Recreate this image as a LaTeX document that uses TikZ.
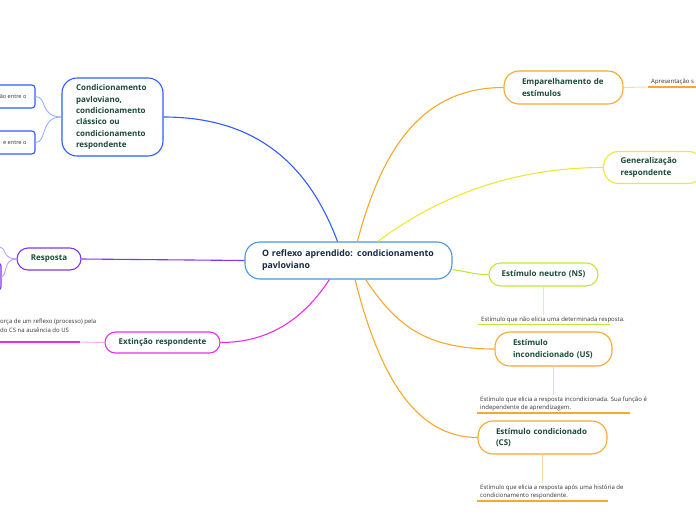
\documentclass[tikz,border=0pt]{standalone}
\usepackage{fontspec}
\setmainfont{Open Sans}
\usetikzlibrary{positioning}
\definecolor{mapBlue}{HTML}{2F5CFF}
\definecolor{mapLightBlue}{HTML}{93B2FF}
\definecolor{mapSky}{HTML}{4A96D8}
\definecolor{mapOrange}{HTML}{F6A92A}
\definecolor{mapPaleOrange}{HTML}{FAD9A6}
\definecolor{mapYellow}{HTML}{F0E82E}
\definecolor{mapLime}{HTML}{BDEB33}
\definecolor{mapPaleLime}{HTML}{DDF593}
\definecolor{mapPurple}{HTML}{7F35F5}
\definecolor{mapLavender}{HTML}{BBA0FF}
\definecolor{mapMagenta}{HTML}{EC2CEC}
\definecolor{mapPink}{HTML}{F6A8F6}
\definecolor{mapText}{HTML}{1B4A3A}
\definecolor{mapNavy}{HTML}{162B45}
\definecolor{mapGrey}{HTML}{333333}

\begin{document}
\begin{tikzpicture}[x=1pt, y=-1pt,
    topic/.style={draw, fill=white, line width=1.1pt, text=mapText, align=left,
      font=\bfseries\fontsize{8}{11.3}\selectfont, inner xsep=0pt, inner ysep=0pt},
    leaf/.style={font=\fontsize{6}{8.6}\selectfont, text=mapGrey, align=left,
      inner xsep=3pt, inner ysep=1.5pt, anchor=south west},
    branch/.style={line width=1.1pt},
    twig/.style={line width=0.9pt},
    rule/.style={line width=1.8pt}]
    \useasboundingbox (0,0) rectangle (696,520);

    % noeud central
    \node[topic, draw=mapSky, text=mapNavy, font=\bfseries\fontsize{8.8}{12}\selectfont,
      rounded corners=15pt, minimum width=207pt, minimum height=37pt, text width=173pt]
      (root) at (348.5,260.5) {O reflexo aprendido: condicionamento\\pavloviano};

    % branches
    \node[topic, draw=mapBlue, rounded corners=15pt, minimum width=101pt, minimum height=78pt,
      text width=73pt] (cond) at (112.5,117)
      {Condicionamento\\pavloviano,\\condicionamento\\clássico ou\\condicionamento\\respondente};
    \node[topic, draw=mapOrange, rounded corners=15pt, minimum width=119pt, minimum height=33pt,
      text width=83pt] (emp) at (563.5,87.5) {Emparelhamento de\\estímulos};
    \node[topic, draw=mapYellow, rounded corners=15pt, anchor=west, minimum width=100pt,
      minimum height=32pt, text width=66pt] (gen) at (603,167.5) {Generalização\\respondente};
    \node[topic, draw=mapLime, rounded corners=11.5pt, align=center, minimum width=109pt,
      minimum height=23pt, text width=90pt] (ns) at (543.5,274.5) {Estímulo neutro (NS)};
    \node[topic, draw=mapOrange, rounded corners=15pt, minimum width=117pt, minimum height=34pt,
      text width=81pt] (us) at (553.5,349) {Estímulo\\incondicionado (US)};
    \node[topic, draw=mapOrange, rounded corners=15pt, minimum width=129pt, minimum height=33pt,
      text width=93pt] (cs) at (542.5,437.5) {Estímulo condicionado\\(CS)};
    \node[topic, draw=mapPurple, rounded corners=11pt, align=center, minimum width=64pt,
      minimum height=22pt, text width=54pt] (resp) at (49,259) {Resposta};
    \node[topic, draw=mapMagenta, rounded corners=10.5pt, align=center, minimum width=115pt,
      minimum height=21pt, text width=100pt] (ext) at (162.5,342.5) {Extinção respondente};

    % sous-branches coupées au bord gauche
    \node[topic, draw=mapBlue, rounded corners=3pt, font=\fontsize{5.6}{8}\selectfont,
      text=mapGrey, inner xsep=8.5pt, minimum height=23pt, anchor=east] (lb1) at (35.5,96.5)
      {ão entre o};
    \node[topic, draw=mapBlue, rounded corners=3pt, font=\fontsize{5.6}{8}\selectfont,
      text=mapGrey, inner xsep=8.5pt, minimum height=23pt, anchor=east] (lb2) at (35.5,142.5)
      {e entre o};
    \node[topic, draw=mapPurple, rounded corners=3pt, minimum width=40pt, minimum height=27pt,
      anchor=east] (rb2) at (1.5,276.5) {};
    \coordinate (rb1) at (0,247);

    % textes des feuilles
    \node[leaf] (apd) at (648,87) {Apresentação s};
    \node[leaf] (nsd) at (478,324.5) {Estímulo que não elicia uma determinada resposta.};
    \node[leaf] (usd) at (477,413) {Estímulo que elicia a resposta incondicionada. Sua função é\\independente de aprendizagem.};
    \node[leaf] (csd) at (477,501) {Estímulo que elicia a resposta após uma história de\\condicionamento respondente.};
    \coordinate (extu) at (-3,342);
    \node[leaf, yshift=8pt] (extd) at (extu) {orça de um reflexo (processo) pela\\do CS na ausência do US};

    % liens depuis le centre
    \draw[branch, mapBlue] (root.120) .. controls +(-30,-80) and +(90,0) .. (cond.east);
    \draw[branch, mapOrange] (root.65) .. controls +(25,-95) and +(-80,0) .. (emp.west);
    \draw[branch, mapYellow] (root.33) .. controls +(60,-45) and +(-90,0) .. (gen.west);
    \draw[branch, mapLime] (root.-5) .. controls +(15,2) and +(-15,0) .. (ns.west);
    \draw[branch, mapOrange] (root.-48) .. controls +(30,45) and +(-70,0) .. (us.west);
    \draw[branch, mapOrange] (root.-71) .. controls +(25,100) and +(-60,0) .. (cs.west);
    \draw[branch, mapMagenta] (root.-135) .. controls +(-25,38) and +(50,0) .. (ext.east);
    \draw[branch, mapPurple] (root.west) -- (resp.east);

    % liens secondaires
    \draw[twig, mapLightBlue] (cond.west) .. controls +(-22,0) and +(12,0) .. (lb1.east);
    \draw[twig, mapLightBlue] (cond.west) .. controls +(-22,0) and +(12,0) .. (lb2.east);
    \draw[twig, mapLavender] (resp.west) .. controls +(-14,0) and +(6,0) .. (rb1);
    \draw[twig, mapLavender] (resp.west) .. controls +(-14,0) and +(6,0) .. (rb2.east);
    \draw[twig, mapPaleOrange] (emp.east) -- (apd.south west);
    \draw[twig, mapPaleLime] (ns.south) -- (ns.south |- nsd.north);
    \draw[twig, mapPaleOrange] (us.south) -- (us.south |- usd.north);
    \draw[twig, mapPaleOrange] (cs.south) -- (cs.south |- csd.north);
    \draw[twig, mapPink] (ext.west) -- ([xshift=83pt]extu);

    % soulignements
    \draw[rule, mapOrange] (apd.south west) -- ++(50,0);
    \draw[rule, mapLime] (nsd.south west) -- ++(132,0);
    \draw[rule, mapOrange] (usd.south west) -- ++(153,0);
    \draw[rule, mapOrange] (csd.south west) -- ++(131,0);
    \draw[rule, mapMagenta] (extu) -- ++(83,0);
\end{tikzpicture}
\end{document}
